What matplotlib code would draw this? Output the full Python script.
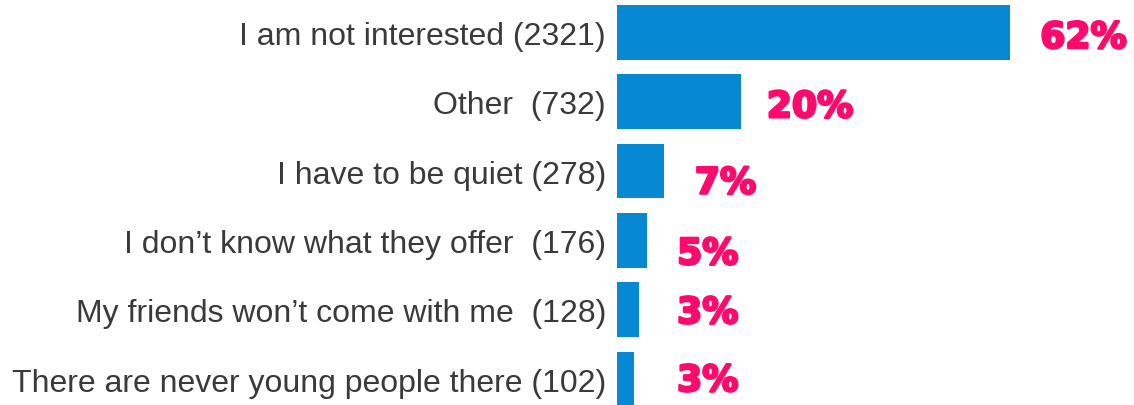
import matplotlib.pyplot as plt
import matplotlib.patheffects as pe

# answers and counts, top to bottom
labels = ['I am not interested (2321)', 'Other  (732)', 'I have to be quiet (278)',
          "I don\u2019t know what they offer  (176)", "My friends won\u2019t come with me  (128)",
          'There are never young people there (102)']
counts = [2321, 732, 278, 176, 128, 102]
pcts = ['62%', '20%', '7%', '5%', '3%', '3%']

# where the pink percent labels start (in data units) and small vertical nudges
pct_x = [2500, 885, 460, 355, 355, 355]
pct_dy = [0.08, 0.08, 0.18, 0.2, 0.05, 0.03]

fig = plt.figure(figsize=(11.34, 4.06), dpi=100)
ax = fig.add_axes([617 / 1134, 0, 517 / 1134, 1])

y = list(range(len(counts)))
ax.barh(y, counts, height=0.79, color='#0788d2')
ax.set_xlim(0, 2321 * 517 / 393)
ax.set_ylim(5.375, -0.483)

ax.set_yticks(y)
ax.set_yticklabels(labels, family='Liberation Sans', fontsize=23, color='#3a3a3a')
ax.tick_params(axis='y', length=0, pad=8)
ax.set_xticks([])
for s in ax.spines.values():
    s.set_visible(False)

for i in range(len(pcts)):
    ax.text(pct_x[i], y[i] + pct_dy[i], pcts[i], ha='left', va='center',
            fontsize=26, fontweight='bold', family='DejaVu Sans', color='#ff0a6c',
            path_effects=[pe.withStroke(linewidth=1.8, foreground='#ff0a6c')])

fig.savefig('out.png', dpi=100)
